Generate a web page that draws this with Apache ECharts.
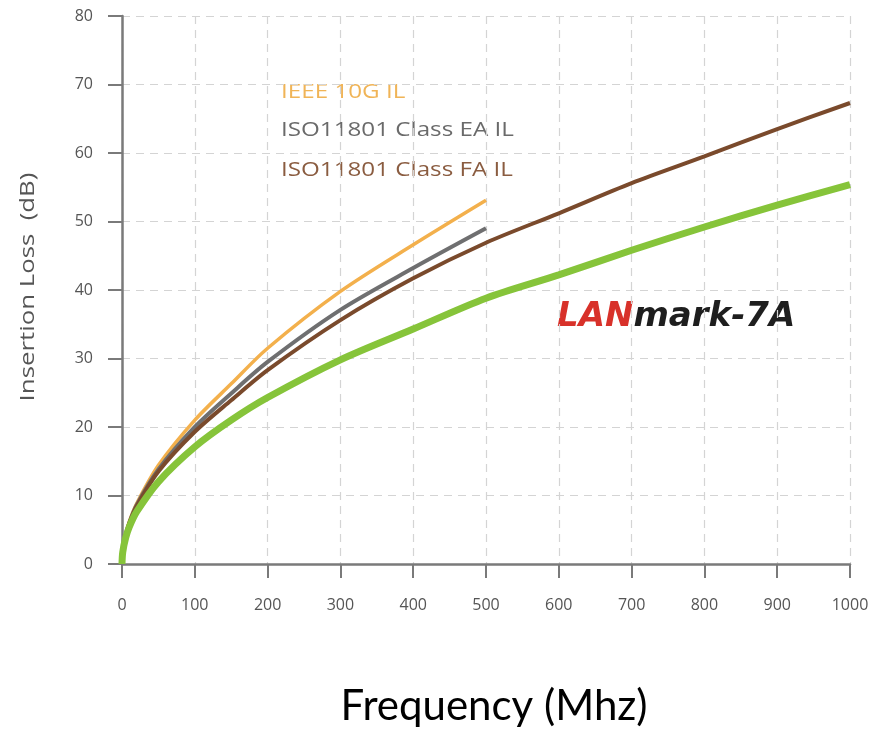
<!DOCTYPE html>
<html><head><meta charset="utf-8">
<script src="https://cdn.jsdelivr.net/npm/echarts@6/dist/echarts.min.js"></script>
<style>html,body{margin:0;padding:0;background:#fff}#c{width:872px;height:732px}</style>
</head><body><div id="c"></div>
<script>
const freqFull = [0, 1, 5, 10, 20, 50, 100, 150, 200, 300, 400, 500, 600, 700, 800, 900, 1000];
const freqHalf = [0, 1, 5, 10, 20, 50, 100, 150, 200, 300, 400, 500];
const lanmark7A = [0, 1.7, 3.8, 5.4, 7.6, 12.0, 17.1, 21.0, 24.3, 29.8, 34.3, 38.8, 42.2, 45.8, 49.2, 52.4, 55.4];
const isoClassFA = [0, 1.85, 4.1, 5.9, 8.4, 13.5, 19.3, 23.9, 28.3, 35.6, 41.7, 46.9, 51.2, 55.6, 59.5, 63.5, 67.3];
const isoClassEA = [0, 1.86, 4.1, 6.0, 8.6, 13.8, 20.0, 24.9, 29.5, 37.1, 43.2, 49.0];
const ieee10G = [0, 1.9, 4.3, 6.2, 8.8, 14.4, 21.0, 26.3, 31.5, 39.8, 46.6, 53.1];
const xTicks = [0, 100, 200, 300, 400, 500, 600, 700, 800, 900, 1000];
const yTicks = [0, 10, 20, 30, 40, 50, 60, 70, 80];
const labels = ['IEEE 10G IL', 'ISO11801 Class EA IL', 'ISO11801 Class FA IL'];

const pair = (xs, ys) => xs.map((x, i) => [x, ys[i]]);
const chart = echarts.init(document.getElementById('c'));
const axisCol = '#7a7a7a';
const gridLine = {show: true, lineStyle: {color: '#d4d4d4', width: 1.2, type: [8, 6]}};
const lineCommon = {type: 'line', smooth: 0.3, showSymbol: false};
chart.setOption({
  backgroundColor: '#ffffff',
  animation: false,
  grid: {left: 122, right: 22, top: 16, bottom: 168},
  xAxis: {
    type: 'value', min: xTicks[0], max: xTicks[xTicks.length - 1], interval: 100,
    axisLine: {lineStyle: {color: axisCol, width: 2.5}},
    axisTick: {show: true, length: 14, lineStyle: {color: axisCol, width: 2}},
    axisLabel: {color: '#555', fontSize: 16, margin: 33, fontFamily: 'Open Sans', formatter: v => String(v)},
    splitLine: gridLine
  },
  yAxis: {
    type: 'value', min: yTicks[0], max: yTicks[yTicks.length - 1], interval: 10,
    axisLine: {show: true, lineStyle: {color: axisCol, width: 2.5}},
    axisTick: {show: true, length: 14, lineStyle: {color: axisCol, width: 2}},
    axisLabel: {color: '#555', fontSize: 16, margin: 29, fontFamily: 'Open Sans'},
    splitLine: gridLine
  },
  series: [
    Object.assign({name: labels[0], data: pair(freqHalf, ieee10G), lineStyle: {color: '#f3b04c', width: 3.5}}, lineCommon),
    Object.assign({name: labels[1], data: pair(freqHalf, isoClassEA), lineStyle: {color: '#6f6f70', width: 4}}, lineCommon),
    Object.assign({name: labels[2], data: pair(freqFull, isoClassFA), lineStyle: {color: '#7a4a2c', width: 4}}, lineCommon),
    Object.assign({name: 'LANmark-7A', data: pair(freqFull, lanmark7A), lineStyle: {color: '#86c43a', width: 7}}, lineCommon)
  ],
  graphic: [
    {type: 'text', x: 281, y: 92, scaleX: 1.21, style: {text: labels[0], fill: '#f0b457', font: '20px "Open Sans"', verticalAlign: 'middle'}},
    {type: 'text', x: 281, y: 130, scaleX: 1.21, style: {text: labels[1], fill: '#6a6a6a', font: '20px "Open Sans"', verticalAlign: 'middle'}},
    {type: 'text', x: 281, y: 170, scaleX: 1.21, style: {text: labels[2], fill: '#8a5c40', font: '20px "Open Sans"', verticalAlign: 'middle'}},
    {type: 'text', x: 28, y: 287, rotation: Math.PI / 2, scaleX: 1.29, style: {text: 'Insertion Loss  (dB)', fill: '#555', font: '20px "Open Sans"', align: 'center', verticalAlign: 'middle'}},
    {type: 'text', x: 557, y: 317, style: {
      text: '{r|LAN}{k|mark-7A}', verticalAlign: 'middle',
      rich: {
        r: {fill: '#d8312a', font: 'italic 900 34px "DejaVu Sans"'},
        k: {fill: '#1e1e1e', font: 'italic 900 34px "DejaVu Sans"'}
      }}},
    {type: 'text', x: 494, y: 706, style: {text: 'Frequency (Mhz)', fill: '#000', font: '42px Lato', align: 'center', verticalAlign: 'middle'}}
  ]
});
</script></body></html>
